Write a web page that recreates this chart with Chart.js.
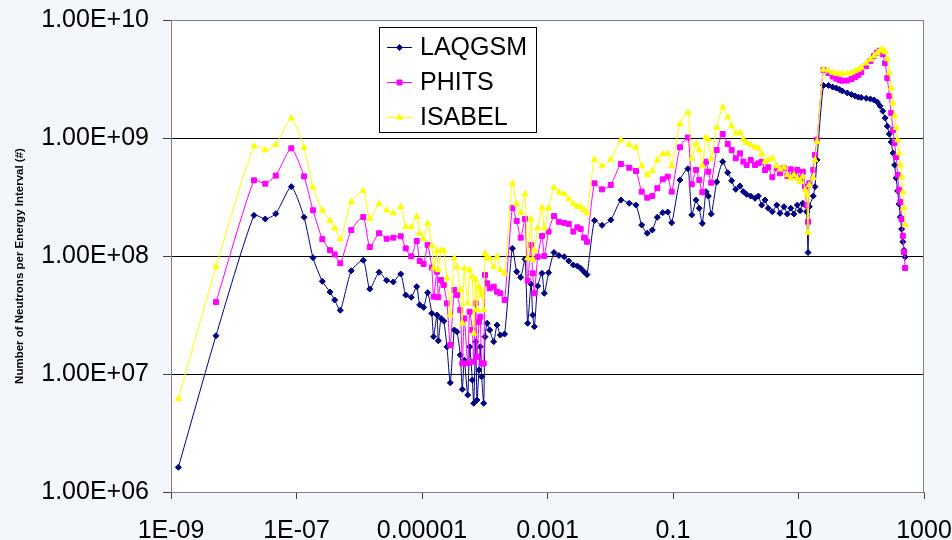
<!DOCTYPE html>
<html>
<head>
<meta charset="utf-8">
<script src="https://cdn.jsdelivr.net/npm/chart.js@4.4.1/dist/chart.umd.min.js"></script>
<style>
  html, body { margin: 0; padding: 0; background: #f3f6fa; }
  #wrap { width: 952px; height: 540px; }
</style>
</head>
<body>
<div id="wrap"><canvas id="spectrum" width="952" height="540"></canvas></div>
<script>
// ===== DATA =====
// neutron energy (MeV), shared by the three codes
const energy = [
  1.31e-9, 5.21e-9, 2.10e-8, 3.18e-8, 4.67e-8, 8.26e-8, 1.32e-7, 1.83e-7, 2.58e-7, 3.42e-7,
  4.06e-7, 4.99e-7, 7.46e-7, 1.16e-6, 1.47e-6, 2.07e-6, 2.73e-6, 3.49e-6, 4.58e-6, 5.50e-6,
  6.75e-6, 8.24e-6, 9.18e-6, 1.06e-5, 1.23e-5, 1.43e-5, 1.53e-5, 1.73e-5, 1.82e-5, 2.01e-5,
  2.22e-5, 2.50e-5, 2.82e-5, 3.27e-5, 3.61e-5, 4.07e-5, 4.39e-5, 4.72e-5, 5.35e-5, 5.75e-5,
  6.34e-5, 6.67e-5, 7.18e-5, 7.52e-5, 8.09e-5, 8.49e-5, 8.93e-5, 9.62e-5, 1.01e-4, 1.09e-4,
  1.20e-4, 1.39e-4, 1.57e-4, 1.77e-4, 2.07e-4, 2.75e-4, 3.23e-4, 3.74e-4, 4.38e-4, 4.83e-4,
  5.46e-4, 5.81e-4, 6.17e-4, 6.98e-4, 8.17e-4, 8.89e-4, 1.04e-3, 1.27e-3, 1.52e-3, 1.85e-3,
  2.18e-3, 2.58e-3, 2.99e-3, 3.38e-3, 3.82e-3, 4.26e-3, 5.61e-3, 7.40e-3, 1.02e-2, 1.48e-2,
  2.01e-2, 2.57e-2, 3.17e-2, 3.89e-2, 4.68e-2, 5.62e-2, 6.86e-2, 8.22e-2, 9.53e-2, 0.129,
  0.173, 0.199, 0.233, 0.262, 0.293, 0.336, 0.366, 0.407, 0.497, 0.619,
  0.745, 0.861, 1.00, 1.17, 1.32, 1.49, 1.73, 2.03, 2.29, 2.59,
  2.93, 3.30, 3.83, 4.50, 5.07, 5.87, 6.63, 7.52, 8.47, 9.57,
  10.6, 11.7, 12.7, 13.5, 14.2, 14.9, 17.2, 18.3, 19.7,
  25, 30, 35, 40, 45, 50, 60, 70, 80, 90,
  100, 120, 140, 160, 180, 200, 220, 240, 260, 280,
  300, 320, 340, 360, 380, 400, 420, 440, 460, 480, 500
];

const laqgsm = [
  1.62e6, 2.11e7, 2.21e8, 2.06e8, 2.28e8, 3.87e8, 2.13e8, 9.68e7, 6.10e7, 4.95e7,
  4.24e7, 3.47e7, 7.50e7, 9.20e7, 5.25e7, 7.27e7, 6.22e7, 6.03e7, 7.04e7, 4.67e7,
  4.47e7, 5.50e7, 3.85e7, 3.67e7, 4.89e7, 3.27e7, 2.07e7, 3.16e7, 1.91e7, 2.96e7,
  2.81e7, 1.70e7, 8.43e6, 2.36e7, 2.28e7, 1.45e7, 7.41e6, 1.31e7, 6.64e6, 1.70e7,
  8.89e6, 5.65e6, 1.88e7, 6.03e6, 1.08e7, 1.70e7, 9.48e6, 5.65e6, 2.07e7, 2.69e7,
  2.36e7, 1.88e7, 2.60e7, 2.14e7, 2.18e7, 1.16e8, 7.36e7, 6.59e7, 9.38e7, 2.69e7,
  5.79e7, 3.16e7, 2.52e7, 5.57e7, 7.13e7, 4.83e7, 7.21e7, 1.07e8, 1.01e8, 9.86e7,
  9.07e7, 8.39e7, 8.22e7, 7.87e7, 7.36e7, 6.95e7, 2.00e8, 1.82e8, 2.02e8, 2.98e8,
  2.80e8, 2.70e8, 1.83e8, 1.56e8, 1.66e8, 2.13e8, 2.33e8, 2.36e8, 1.91e8, 4.41e8,
  5.49e8, 2.23e8, 2.98e8, 2.54e8, 1.89e8, 3.51e8, 3.22e8, 2.27e8, 4.24e8, 6.30e8,
  5.08e8, 4.35e8, 3.67e8, 3.92e8, 3.51e8, 3.33e8, 3.22e8, 3.08e8, 3.22e8, 2.70e8,
  2.98e8, 2.54e8, 2.37e8, 2.70e8, 2.30e8, 2.62e8, 2.27e8, 2.54e8, 2.27e8, 2.70e8,
  2.42e8, 2.80e8, 2.70e8, 2.37e8, 1.07e8, 2.62e8, 3.22e8, 3.87e8, 6.51e8,
  2.79e9, 2.79e9, 2.70e9, 2.65e9, 2.58e9, 2.50e9, 2.41e9, 2.34e9, 2.27e9, 2.22e9,
  2.20e9, 2.17e9, 2.14e9, 2.10e9, 2.02e9, 1.87e9, 1.69e9, 1.48e9, 1.26e9, 1.08e9,
  9.25e8, 7.46e8, 5.90e8, 4.58e8, 3.56e8, 2.76e8, 2.14e8, 1.69e8, 1.32e8, 1.12e8, 9.82e7
];

const phits = [
  null, 4.07e7, 4.38e8, 4.10e8, 4.80e8, 8.18e8, 4.73e8, 2.44e8, 1.39e8, 1.12e8,
  1.03e8, 8.67e7, 1.66e8, 2.14e8, 1.19e8, 1.56e8, 1.40e8, 1.43e8, 1.47e8, 1.16e8,
  9.93e7, 1.34e8, 9.07e7, 8.55e7, 1.24e8, 7.96e7, 4.52e7, 7.36e7, 4.47e7, 6.26e7,
  5.68e7, 3.97e7, 1.76e7, 5.15e7, 4.67e7, 3.49e7, 1.23e7, 2.96e7, 1.23e7, 3.37e7,
  2.36e7, 1.27e7, 3.97e7, 1.40e7, 2.77e7, 3.06e7, 1.23e7, 1.23e7, 6.90e7, 5.87e7,
  5.32e7, 5.50e7, 4.98e7, 4.83e7, 4.24e7, 2.55e8, 1.98e8, 1.43e8, 2.06e8, 6.18e7,
  1.24e8, 7.13e7, 4.83e7, 9.86e7, 1.48e8, 1.00e8, 1.61e8, 2.18e8, 1.95e8, 1.91e8,
  1.87e8, 1.61e8, 1.75e8, 1.69e8, 1.43e8, 1.32e8, 4.13e8, 3.67e8, 4.00e8, 6.02e8,
  5.60e8, 5.25e8, 3.51e8, 3.12e8, 3.22e8, 3.75e8, 4.47e8, 4.70e8, 3.51e8, 8.34e8,
  1.01e9, 4.05e8, 5.36e8, 4.41e8, 3.47e8, 6.30e8, 5.18e8, 4.18e8, 7.91e8, 1.08e9,
  8.89e8, 7.91e8, 6.73e8, 7.41e8, 6.30e8, 5.90e8, 6.51e8, 5.90e8, 6.10e8, 6.30e8,
  5.36e8, 5.65e8, 4.65e8, 5.53e8, 5.02e8, 5.53e8, 4.76e8, 5.43e8, 4.86e8, 5.36e8,
  4.55e8, 5.18e8, 3.87e8, 2.70e8, 1.95e8, 4.13e8, 5.36e8, 7.18e8, 9.62e8,
  3.77e9, 3.56e9, 3.32e9, 3.19e9, 3.10e9, 3.06e9, 3.07e9, 3.16e9, 3.29e9, 3.42e9,
  3.62e9, 4.07e9, 4.50e9, 4.95e9, 5.30e9, 5.49e9, 5.15e9, 4.32e9, 3.22e9, 2.27e9,
  1.63e9, 1.17e9, 9.07e8, 6.90e8, 4.86e8, 3.62e8, 2.87e8, 2.06e8, 1.48e8, 1.08e8, 7.91e7
];

const isabel = [
  6.14e6, 8.11e7, 8.51e8, 7.91e8, 8.77e8, 1.47e9, 8.28e8, 3.82e8, 2.44e8, 1.99e8,
  1.72e8, 1.39e8, 2.87e8, 3.57e8, 2.07e8, 2.76e8, 2.44e8, 2.31e8, 2.62e8, 1.77e8,
  1.76e8, 2.15e8, 1.56e8, 1.39e8, 1.89e8, 1.22e8, 7.87e7, 1.11e8, 7.61e7, 1.11e8,
  1.11e8, 6.47e7, 3.16e7, 9.57e7, 8.11e7, 5.15e7, 2.69e7, 7.87e7, 3.97e7, 7.61e7,
  6.68e7, 2.21e7, 6.26e7, 3.49e7, 5.50e7, 5.15e7, 4.67e7, 3.49e7, 1.05e8, 9.57e7,
  9.57e7, 8.11e7, 9.86e7, 7.61e7, 7.13e7, 4.13e8, 2.76e8, 2.33e8, 3.35e8, 9.57e7,
  2.05e8, 9.25e7, 1.12e8, 1.72e8, 2.57e8, 1.72e8, 2.54e8, 3.79e8, 3.47e8, 3.35e8,
  3.04e8, 2.76e8, 2.62e8, 2.60e8, 2.45e8, 2.31e8, 6.59e8, 5.79e8, 6.59e8, 9.62e8,
  8.73e8, 8.34e8, 5.79e8, 4.86e8, 5.28e8, 6.51e8, 7.32e8, 7.41e8, 5.79e8, 1.31e9,
  1.64e9, 6.68e8, 8.89e8, 7.91e8, 5.79e8, 1.01e9, 9.75e8, 6.68e8, 1.23e9, 1.82e9,
  1.50e9, 1.26e9, 1.10e9, 1.11e9, 9.75e8, 9.12e8, 8.73e8, 8.34e8, 8.18e8, 7.32e8,
  6.30e8, 6.51e8, 6.73e8, 5.79e8, 5.43e8, 5.65e8, 4.86e8, 4.55e8, 4.86e8, 4.55e8,
  4.26e8, 4.70e8, 3.62e8, 3.29e8, 1.58e8, 4.00e8, 4.58e8, 6.51e8, 9.34e8,
  3.81e9, 3.70e9, 3.59e9, 3.52e9, 3.49e9, 3.49e9, 3.53e9, 3.59e9, 3.70e9, 3.81e9,
  3.96e9, 4.30e9, 4.63e9, 4.95e9, 5.25e9, 5.52e9, 5.65e9, 5.36e9, 4.67e9, 3.56e9,
  2.65e9, 1.98e9, 1.54e9, 1.22e9, 9.62e8, 7.46e8, 5.90e8, 4.67e8, 3.48e8, 2.55e8, 1.83e8
];

// axis ticks
const xTickValues = [1e-9, 1e-7, 1e-5, 1e-3, 0.1, 10, 1000];
const xTickLabels = ['1E-09', '1E-07', '0.00001', '0.001', '0.1', '10', '1000'];
const yTickValues = [1e6, 1e7, 1e8, 1e9, 1e10];
const yTickLabels = ['1.00E+06', '1.00E+07', '1.00E+08', '1.00E+09', '1.00E+10'];

const yTitle = 'Number of Neutrons per Energy Interval (#)';
const FONT = '"Liberation Sans", Arial, sans-serif';

function toPoints(values) {
    return energy.map((e, i) => ({ x: e, y: values[i] }));
}

// ===== PLUGINS =====
// page colour + white plot area + grey frame
const backdrop = {
    id: 'backdrop',
    beforeDraw(chart) {
        const { ctx, chartArea: a } = chart;
        ctx.save();
        ctx.fillStyle = '#f3f6fa';
        ctx.fillRect(0, 0, chart.width, chart.height);
        ctx.fillStyle = '#ffffff';
        ctx.fillRect(a.left, a.top, a.right - a.left, a.bottom - a.top);
        ctx.restore();
    },
    beforeDatasetsDraw(chart) {
        const { ctx, chartArea: a } = chart;
        ctx.save();
        ctx.strokeStyle = '#808080';
        ctx.lineWidth = 1;
        ctx.strokeRect(a.left + 0.5, a.top + 0.5, a.right - a.left - 1, a.bottom - a.top);
        ctx.restore();
    }
};

// boxed legend inside the plot + rotated y title
const boxLegend = {
    id: 'boxLegend',
    afterDraw(chart) {
        const ctx = chart.ctx;
        ctx.save();
        ctx.fillStyle = '#ffffff';
        ctx.fillRect(379, 27, 157, 105);
        ctx.strokeStyle = '#000000';
        ctx.lineWidth = 1;
        ctx.strokeRect(379.5, 27.5, 157, 105);

        ctx.font = '25px ' + FONT;
        ctx.textBaseline = 'middle';
        ctx.textAlign = 'left';
        chart.data.datasets.forEach((ds, i) => {
            const y = 47.5 + i * 35;
            ctx.strokeStyle = ds.borderColor;
            ctx.lineWidth = 1;
            ctx.beginPath();
            ctx.moveTo(387, y);
            ctx.lineTo(412, y);
            ctx.stroke();
            ctx.fillStyle = ds.pointBackgroundColor;
            ctx.strokeStyle = ds.pointBorderColor;
            Chart.helpers.drawPoint(ctx, {
                pointStyle: ds.pointStyle,
                radius: ds.pointRadius,
                borderWidth: 1,
                rotation: 0
            }, 399.5, y);
            ctx.fillStyle = '#000000';
            ctx.fillText(ds.label, 420, y + 1);
        });

        ctx.translate(20, 266);
        ctx.rotate(-Math.PI / 2);
        ctx.font = 'bold 11.5px ' + FONT;
        ctx.textAlign = 'center';
        ctx.fillStyle = '#000000';
        ctx.fillText(yTitle, 0, 0);
        ctx.restore();
    }
};

// ===== CHART =====
const ctx = document.getElementById('spectrum');
new Chart(ctx, {
    type: 'line',
    data: {
        datasets: [
            {
                label: 'LAQGSM',
                data: toPoints(laqgsm),
                borderColor: '#000080',
                backgroundColor: '#000080',
                pointBackgroundColor: '#000080',
                pointBorderColor: '#000080',
                pointStyle: 'rectRot',
                pointRadius: 3,
                borderWidth: 1,
                order: 2
            },
            {
                label: 'PHITS',
                data: toPoints(phits),
                borderColor: '#ff00ff',
                backgroundColor: '#ff00ff',
                pointBackgroundColor: '#ff00ff',
                pointBorderColor: '#ff00ff',
                pointStyle: 'rect',
                pointRadius: 3.5,
                borderWidth: 1,
                order: 1
            },
            {
                label: 'ISABEL',
                data: toPoints(isabel),
                borderColor: '#ffff00',
                backgroundColor: '#ffff00',
                pointBackgroundColor: '#ffff00',
                pointBorderColor: '#ffff00',
                pointStyle: 'triangle',
                pointRadius: 3.5,
                borderWidth: 1,
                order: 0
            }
        ]
    },
    options: {
        responsive: false,
        animation: false,
        tension: 0.2,
        layout: { padding: { left: 0, top: 20, right: 28, bottom: 0 } },
        plugins: {
            legend: { display: false },
            tooltip: { enabled: false }
        },
        scales: {
            x: {
                type: 'logarithmic',
                min: 1e-9,
                max: 1000,
                afterBuildTicks: (scale) => { scale.ticks = xTickValues.map(v => ({ value: v })); },
                afterFit: (scale) => {
                    scale.height = 48;
                    scale.paddingLeft = 0;
                    scale.paddingRight = 0;
                },
                ticks: {
                    autoSkip: false,
                    maxRotation: 0,
                    padding: 17,
                    color: '#000000',
                    font: { family: FONT, size: 25 },
                    callback: (value, index) => xTickLabels[index]
                },
                grid: {
                    drawOnChartArea: false,
                    drawTicks: true,
                    tickLength: 7,
                    tickColor: '#404040'
                },
                border: { display: true, color: '#808080', width: 1 }
            },
            y: {
                type: 'logarithmic',
                min: 1e6,
                max: 1e10,
                afterBuildTicks: (scale) => { scale.ticks = yTickValues.map(v => ({ value: v })); },
                afterFit: (scale) => {
                    scale.width = 171;
                    scale.paddingTop = 0;
                    scale.paddingBottom = 0;
                },
                ticks: {
                    padding: 14,
                    color: '#000000',
                    font: { family: FONT, size: 25 },
                    callback: (value, index) => yTickLabels[index]
                },
                grid: {
                    color: (c) => (c.tick && (c.tick.value === 1e6 || c.tick.value === 1e10)) ? 'rgba(0,0,0,0)' : '#000000',
                    lineWidth: 1,
                    tickLength: 8,
                    tickColor: '#404040'
                },
                border: { display: true, color: '#707070', width: 1 }
            }
        }
    },
    plugins: [backdrop, boxLegend]
});
</script>
</body>
</html>
